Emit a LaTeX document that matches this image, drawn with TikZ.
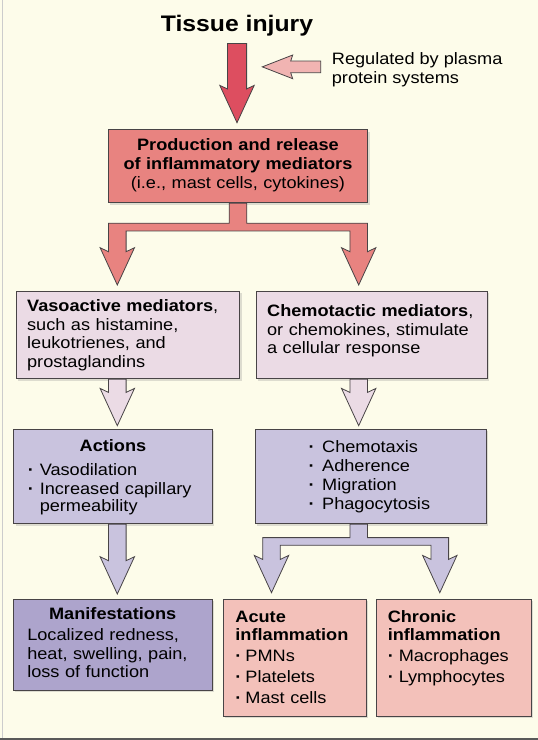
\documentclass[tikz,border=0pt]{standalone}
\usepackage{fontspec}
\setmainfont[FakeStretch=1.1]{Liberation Sans}
\usepackage{xcolor}
\usepackage{tikz}
\usetikzlibrary{calc, shadows}

\definecolor{cream}{RGB}{253,252,234}
\definecolor{edge}{RGB}{72,68,70}
\definecolor{injred}{RGB}{221,78,96}
\definecolor{regpink}{RGB}{241,180,178}
\definecolor{medred}{RGB}{232,131,128}
\definecolor{medlilac}{RGB}{235,219,229}
\definecolor{actlilac}{RGB}{201,195,222}
\definecolor{manlilac}{RGB}{173,164,204}
\definecolor{cellpink}{RGB}{243,193,186}

\tikzstyle{box}=[draw=edge, line width=0.9pt, anchor=north west, align=left, inner ysep=7pt, inner xsep=11.5pt, text height=14pt, drop shadow={shadow xshift=2pt, shadow yshift=-2pt, opacity=0.25}]
\tikzstyle{fat}=[draw=edge, line width=0.8pt, line join=miter]

% block arrow sizes
\def\sw{8.8pt}\def\hw{17.2pt}\def\hl{37.3pt}\def\bb{4pt}\def\bt{7.7pt}

\newcommand{\fatdown}[3][]{%
  \draw[#1] let \p1=#2, \p2=#3 in
    (\x2-\sw,\y1) -- (\x2-\sw,\y2+\hl-\bb) -- (\x2-\hw,\y2+\hl) -- (\x2,\y2)
    -- (\x2+\hw,\y2+\hl) -- (\x2+\sw,\y2+\hl-\bb) -- (\x2+\sw,\y1) -- cycle;}
\newcommand{\fatfork}[5][]{%
  \draw[#1] let \p1=#2, \p2=#3, \p3=#4, \p4=#5 in
    (\x1-\sw,\y1) -- (\x1-\sw,\y2) -- (\x3-\sw,\y2) -- (\x3-\sw,\y3+\hl-\bb)
    -- (\x3-\hw,\y3+\hl) -- (\x3,\y3) -- (\x3+\hw,\y3+\hl) -- (\x3+\sw,\y3+\hl-\bb)
    -- (\x3+\sw,\y2-\bt) -- (\x4-\sw,\y2-\bt) -- (\x4-\sw,\y4+\hl-\bb)
    -- (\x4-\hw,\y4+\hl) -- (\x4,\y4) -- (\x4+\hw,\y4+\hl) -- (\x4+\sw,\y4+\hl-\bb)
    -- (\x4+\sw,\y2) -- (\x1+\sw,\y2) -- (\x1+\sw,\y1) -- cycle;}
\newcommand{\fatleft}[3][]{%
  \draw[#1] let \p1=#2, \p2=#3 in
    (\x1,\y1+5.85pt) -- (\x2+28.4pt,\y1+5.85pt) -- (\x2+30.4pt,\y1+11.85pt) -- (\x2,\y2)
    -- (\x2+30.4pt,\y1-11.85pt) -- (\x2+28.4pt,\y1-5.85pt) -- (\x1,\y1-5.85pt) -- cycle;}
\newcommand{\bul}[1][11pt]{\makebox[#1][l]{\textbf{·}}}
\newcommand{\chitem}{\hspace*{41.7pt}\bul[13.5pt]}

\begin{document}
\begin{tikzpicture}[x=1pt, y=-1pt, font=\fontsize{16.5}{18.7}\selectfont]
	\fill[cream] (0,0) rectangle (538,740);
	\useasboundingbox (0,0) rectangle (538,740);
	\draw[line width=1.2pt, black!20] (2.5,0) -- (2.5,740);
	\draw[line width=1.5pt, black!65] (0,739) -- (538,739);

	\node[anchor=base, inner sep=7.6pt, font=\fontsize{22.5}{26}\selectfont\bfseries] (title) at (237,31) {Tissue injury};
	\node[anchor=west, inner sep=0pt, align=left] (reg) at (331.7,70) {Regulated by plasma\\protein systems};

	\node[box, fill=medred, align=center, text width=236.6pt, text depth=45pt] (prod) at (107.7,129.3)
		{\textbf{Production and release}\\\textbf{of inflammatory mediators}\\[0.5pt](i.e., mast cells, cytokines)};
	\node[box, fill=medlilac, inner xsep=11pt, text width=201.6pt, text height=13pt, text depth=60.3pt] (vaso) at (15.7,291)
		{\textbf{Vasoactive mediators},\\such as histamine,\\leukotrienes, and\\prostaglandins};
	\node[box, fill=medlilac, inner xsep=11pt, text width=209pt, text height=18pt, text depth=55.3pt] (chem) at (255.7,291)
		{\textbf{Chemotactic mediators},\\or chemokines, stimulate\\a cellular response};
	\node[box, fill=actlilac, inner xsep=14.2pt, text width=170pt, text height=15pt, text depth=65.3pt] (act) at (13.3,429)
		{\makebox[\linewidth][c]{\textbf{Actions}}\\[5.5pt]\bul[11.8pt]Vasodilation\\\bul[11.8pt]Increased capillary\\[-1.7pt]\hspace*{11.8pt}permeability};
	\node[box, fill=actlilac, text width=207.7pt, text height=15.7pt, text depth=64.6pt] (rbox) at (255,429)
		{\chitem Chemotaxis\\[0.3pt]\chitem Adherence\\[0.3pt]\chitem Migration\\[0.3pt]\chitem Phagocytosis};
	\node[box, fill=manlilac, inner xsep=14.1pt, text width=170.8pt, text height=12.7pt, text depth=64.3pt] (manif) at (12.7,599)
		{\makebox[\linewidth][c]{\textbf{Manifestations}}\\[2.6pt]Localized redness,\\heat, swelling, pain,\\[-0.4pt]loss of function};
	\node[box, fill=cellpink, inner xsep=12.3pt, text width=118.4pt, text height=16pt, text depth=86.7pt] (acute) at (222.7,599)
		{\textbf{Acute}\\[-0.4pt]\textbf{inflammation}\\[2pt]\bul[10pt]PMNs\\[2pt]\bul[10pt]Platelets\\[2.3pt]\bul[10pt]Mast cells};
	\node[box, fill=cellpink, inner xsep=11.6pt, text width=131.8pt, text height=16pt, text depth=86.7pt] (chron) at (375.7,599)
		{\textbf{Chronic}\\[-0.4pt]\textbf{inflammation}\\[2pt]\bul[11pt]Macrophages\\[2pt]\bul[11pt]Lymphocytes};

	\coordinate (lcol) at (117.3,0);
	\coordinate (rcol) at (358.7,0);
	\coordinate (acol) at (271.5,0);
	\coordinate (ccol) at (439.8,0);
	\coordinate (regtip) at (262.3,66.85);

	{\def\sw{9.6pt}\def\bb{3.5pt}
	\fatdown[fat, fill=injred]{(title.south)}{([yshift=6.6pt]title.south |- prod.north)}}
	\fatleft[fat, fill=regpink]{([xshift=-11pt]reg.west |- regtip)}{(regtip)}
	\fatfork[fat, fill=medred]{(prod.south)}{([yshift=-20pt]prod.south)}{([yshift=6pt]lcol |- vaso.north)}{([yshift=6pt]rcol |- chem.north)}
	\foreach \col/\up/\down in {lcol/vaso/act, rcol/chem/rbox}
		\fatdown[fat, fill=medlilac]{(\col |- \up.south)}{([yshift=3.3pt]\col |- \down.north)};
	\fatdown[fat, fill=actlilac]{(lcol |- act.south)}{([yshift=5pt]lcol |- manif.north)}
	\fatfork[fat, fill=actlilac]{(rcol |- rbox.south)}{([yshift=-13.4pt]rcol |- rbox.south)}{([yshift=6.3pt]acol |- acute.north)}{([yshift=6.3pt]ccol |- chron.north)}
\end{tikzpicture}
\end{document}
